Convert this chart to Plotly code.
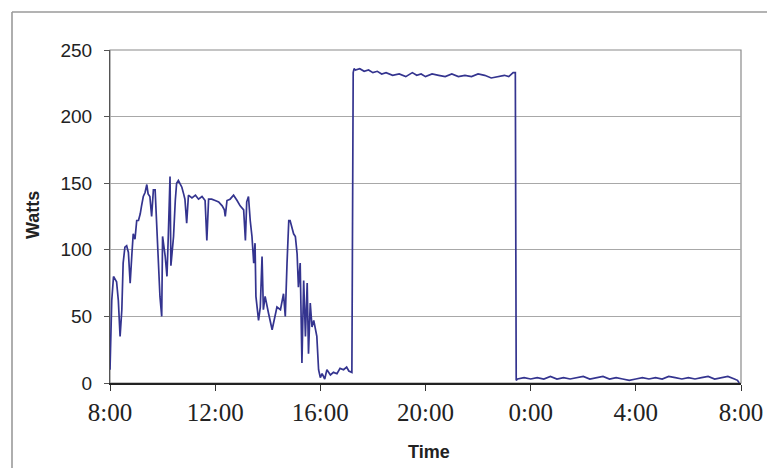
import plotly.graph_objects as go
import pandas as pd

# ---- data ----
times = [
    "08:00", "08:02", "08:04", "08:08", "08:11", "08:15", "08:19", "08:23", "08:27", "08:30",
    "08:34", "08:38", "08:42", "08:46", "08:50", "08:53", "08:57", "09:01", "09:05", "09:09",
    "09:12", "09:16", "09:20", "09:24", "09:27", "09:31", "09:35", "09:39", "09:43", "09:47",
    "09:50", "09:54", "09:58", "10:00", "10:06", "10:10", "10:13", "10:17", "10:19", "10:25",
    "10:29", "10:32", "10:36", "10:40", "10:44", "10:48", "10:51", "10:55", "10:59", "11:07",
    "11:15", "11:22", "11:30", "11:37", "11:41", "11:45", "11:52", "12:00", "12:08", "12:16",
    "12:21", "12:23", "12:27", "12:34", "12:42", "12:50", "12:57", "13:05", "13:09", "13:12",
    "13:16", "13:20", "13:24", "13:28", "13:31", "13:33", "13:39", "13:43", "13:47", "13:50",
    "13:54", "14:02", "14:10", "14:21", "14:29", "14:36", "14:40", "14:44", "14:48", "14:51",
    "14:59", "15:03", "15:07", "15:10", "15:14", "15:18", "15:22", "15:26", "15:30", "15:33",
    "15:37", "15:41", "15:45", "15:52", "15:56", "16:00", "16:04", "16:10", "16:15", "16:23",
    "16:30", "16:38", "16:45", "16:53", "17:00", "17:05", "17:12", "17:15", "17:17", "17:20",
    "17:30", "17:40", "17:50", "18:00", "18:10", "18:20", "18:30", "18:45", "19:00", "19:15",
    "19:30", "19:40", "19:50", "20:00", "20:15", "20:30", "20:45", "21:00", "21:15", "21:30",
    "21:45", "22:00", "22:15", "22:30", "22:45", "23:00", "23:10", "23:20", "23:25", "23:27",
    "23:30", "23:45", "00:00", "00:15", "00:30", "00:45", "01:00", "01:15", "01:30", "01:45",
    "02:00", "02:15", "02:30", "02:45", "03:00", "03:15", "03:30", "03:45", "04:00", "04:15",
    "04:30", "04:45", "05:00", "05:15", "05:30", "05:45", "06:00", "06:15", "06:30", "06:45",
    "07:00", "07:15", "07:30", "07:45", "07:52", "07:56",
]
watts = [
    10, 30, 62, 80, 78, 76, 62, 35, 55, 90,
    102, 103, 98, 75, 97, 112, 108, 122, 122, 127,
    133, 140, 143, 149, 142, 140, 125, 145, 145, 113,
    85, 65, 50, 110, 95, 80, 110, 155, 88, 110,
    137, 150, 152, 150, 147, 142, 138, 120, 141, 139,
    141, 138, 140, 137, 107, 138, 138, 137, 136, 133,
    130, 125, 137, 138, 141, 137, 133, 130, 107, 136,
    140, 122, 110, 90, 105, 65, 47, 57, 95, 55,
    65, 52, 40, 57, 55, 67, 50, 90, 122, 122,
    112, 110, 97, 72, 90, 15, 77, 35, 75, 22,
    60, 42, 47, 35, 10, 4, 7, 3, 10, 6,
    8, 7, 11, 10, 12, 9, 8, 233, 236, 235,
    236, 234, 235, 233, 234, 232, 233, 231, 232, 230,
    233, 231, 232, 230, 232, 231, 230, 232, 230, 231,
    230, 232, 231, 229, 230, 231, 230, 233, 233, 2,
    3, 4, 3, 4, 3, 5, 3, 4, 3, 4,
    5, 3, 4, 5, 3, 4, 3, 2, 3, 4,
    3, 4, 3, 5, 4, 3, 4, 3, 4, 5,
    3, 4, 5, 3, 2, 0,
]
tick_times = ["08:00", "12:00", "16:00", "20:00", "00:00", "04:00", "08:00"]
tick_labels = ["8:00", "12:00", "16:00", "20:00", "0:00", "4:00", "8:00"]
y_ticks = [0, 50, 100, 150, 200, 250]


def to_datetimes(clock_list):
    out, day, prev = [], 0, None
    for t in clock_list:
        ts = pd.Timestamp("2000-01-01 " + t)
        if prev is not None and ts.time() < prev:
            day += 1
        prev = ts.time()
        out.append(ts + pd.Timedelta(days=day))
    return out


x_vals = to_datetimes(times)
x_ticks = to_datetimes(tick_times)

fig = go.Figure()
fig.add_trace(go.Scatter(
    x=x_vals, y=watts, mode="lines",
    line=dict(color="#34348f", width=1.7),
    showlegend=False, hoverinfo="skip",
))

W, H = 767, 468
L, R, T, B = 110, 26, 50, 85
pw, ph = W - L - R, H - T - B

fx = lambda px: (px - L) / pw          # pixel x -> paper x
fy = lambda py: (T + ph - py) / ph     # pixel y -> paper y

fig.update_layout(
    width=W, height=H, autosize=False,
    margin=dict(l=L, r=R, t=T, b=B, pad=0),
    paper_bgcolor="white", plot_bgcolor="white",
    xaxis=dict(
        range=[x_ticks[0], x_ticks[-1]],
        tickvals=x_ticks, ticktext=tick_labels,
        showgrid=False, zeroline=False, automargin=False,
        showline=True, linecolor="#222222", linewidth=1.5,
        ticks="outside", ticklen=6, tickcolor="#333333", tickwidth=1,
        tickfont=dict(family="Liberation Serif", size=25, color="#222222"),
    ),
    yaxis=dict(
        range=[0, 250], tickvals=y_ticks, automargin=False,
        showgrid=True, gridcolor="#a8a8a8", gridwidth=1,
        zeroline=False,
        showline=True, linecolor="#555555", linewidth=1.2,
        ticks="outside", ticklen=5, tickcolor="#555555",
        ticklabelstandoff=8,
        tickfont=dict(family="Liberation Sans", size=19, color="#222222"),
    ),
    shapes=[
        dict(type="rect", xref="paper", yref="paper", x0=0, x1=1, y0=0, y1=1,
             line=dict(color="#8a8a8a", width=1.2), layer="below"),
        dict(type="line", xref="paper", yref="paper",
             x0=fx(12), x1=fx(12), y0=fy(12), y1=fy(H + 5),
             line=dict(color="#9a9a9a", width=1.6), layer="below"),
        dict(type="line", xref="paper", yref="paper",
             x0=fx(12), x1=fx(W + 5), y0=fy(12), y1=fy(12),
             line=dict(color="#9a9a9a", width=1.6), layer="below"),
    ],
    annotations=[
        dict(text="<b>Watts</b>", xref="paper", yref="paper",
             x=fx(33), y=fy(215), textangle=-90,
             showarrow=False, xanchor="center", yanchor="middle",
             font=dict(family="Liberation Sans", size=18, color="#222222")),
        dict(text="<b>Time</b>", xref="paper", yref="paper",
             x=fx(429), y=fy(452),
             showarrow=False, xanchor="center", yanchor="middle",
             font=dict(family="Liberation Sans", size=18, color="#222222")),
    ],
)

fig.write_html(
    "out.html",
    config={"displayModeBar": False, "responsive": False},
    post_script=(
        "document.body.style.margin='0';"
        "document.body.style.overflow='hidden';"
    ),
)
